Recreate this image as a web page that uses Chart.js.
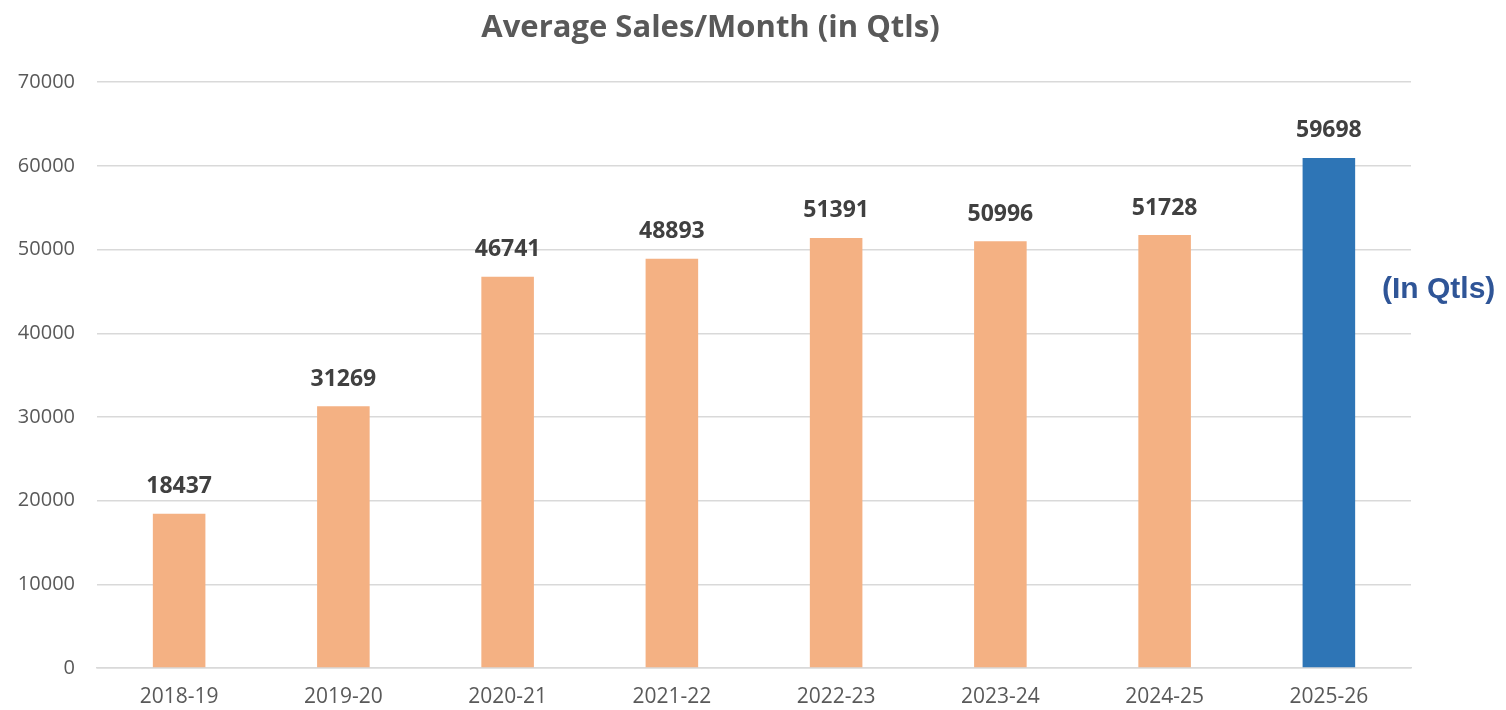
<!DOCTYPE html>
<html>
<head>
<meta charset="utf-8">
<script src="https://cdn.jsdelivr.net/npm/chart.js@4"></script>
<style>
  html, body { margin: 0; padding: 0; background: #fff; }
  #wrap { width: 1506px; height: 710px; }
</style>
</head>
<body>
<div id="wrap"><canvas id="salesChart" width="1506" height="710"></canvas></div>
<script>
// Chart data
const years = ['2018-19', '2019-20', '2020-21', '2021-22', '2022-23', '2023-24', '2024-25', '2025-26'];
const salesValues = [18437, 31269, 46741, 48893, 51391, 50996, 51728, 60950]; // bar heights as drawn
const valueLabels = ['18437', '31269', '46741', '48893', '51391', '50996', '51728', '59698']; // printed labels
const barColors = ['#F4B183', '#F4B183', '#F4B183', '#F4B183', '#F4B183', '#F4B183', '#F4B183', '#2E75B6'];
const yTicks = [0, 10000, 20000, 30000, 40000, 50000, 60000, 70000];

// value labels above each bar
const valueLabelPlugin = {
    id: 'valueLabels',
    afterDatasetsDraw(chart) {
        const ctx = chart.ctx;
        const meta = chart.getDatasetMeta(0);
        ctx.save();
        ctx.font = 'bold 23px "Open Sans"';
        ctx.fillStyle = '#404040';
        ctx.textAlign = 'center';
        ctx.textBaseline = 'middle';
        meta.data.forEach((bar, i) => {
            ctx.fillText(valueLabels[i], bar.x, bar.y - 27);
        });
        ctx.restore();
    }
};

// unit note on the right side
const unitNotePlugin = {
    id: 'unitNote',
    afterDraw(chart) {
        const ctx = chart.ctx;
        const area = chart.chartArea;
        ctx.save();
        ctx.font = 'bold 30px "Liberation Sans"';
        ctx.fillStyle = '#2F5597';
        ctx.textAlign = 'left';
        ctx.textBaseline = 'middle';
        ctx.fillText('(In Qtls)', area.right - 29, area.top + 208);
        ctx.restore();
    }
};

const ctx = document.getElementById('salesChart').getContext('2d');
const salesChart = new Chart(ctx, {
    type: 'bar',
    data: {
        labels: years,
        datasets: [{
            data: salesValues,
            backgroundColor: barColors,
            borderWidth: 0,
            barPercentage: 0.32,
            categoryPercentage: 1.0
        }]
    },
    options: {
        responsive: false,
        animation: false,
        layout: { padding: { left: 10, right: 95, top: 0, bottom: 0 } },
        plugins: {
            legend: { display: false },
            tooltip: { enabled: false },
            title: {
                display: true,
                text: 'Average Sales/Month (in Qtls)',
                color: '#595959',
                font: { family: '"Open Sans"', size: 31, weight: 'bold', lineHeight: 1.2 },
                padding: { top: 10, bottom: 35 }
            }
        },
        scales: {
            x: {
                grid: { display: false, drawTicks: false },
                border: { display: true, color: '#D9D9D9', width: 1.5 },
                ticks: { color: '#595959', font: { family: '"Open Sans"', size: 21 }, padding: 16 },
                afterFit(scale) { scale.height = 42; }
            },
            y: {
                min: 0,
                max: 70000,
                afterBuildTicks(scale) { scale.ticks = yTicks.map(v => ({ value: v })); },
                grid: { color: '#D9D9D9', lineWidth: 1.5, drawTicks: false },
                border: { display: false },
                ticks: {
                    color: '#595959',
                    font: { family: '"Open Sans"', size: 20 },
                    padding: 22,
                    callback: (value) => String(value)
                },
                afterFit(scale) { scale.width = 87; }
            }
        }
    },
    plugins: [valueLabelPlugin, unitNotePlugin]
});
</script>
</body>
</html>
